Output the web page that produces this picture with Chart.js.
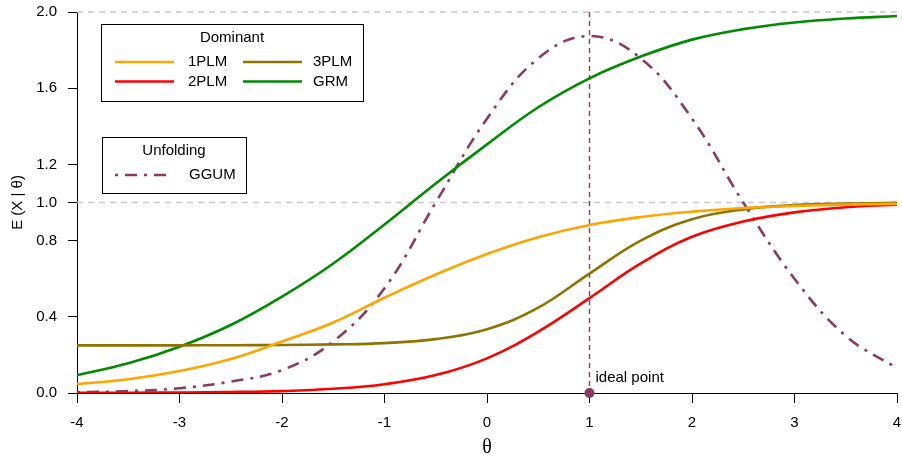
<!DOCTYPE html>
<html>
<head>
<meta charset="utf-8">
<script src="https://cdn.jsdelivr.net/npm/chart.js@4.4.1/dist/chart.umd.min.js"></script>
<style>
  html, body { margin: 0; padding: 0; background: #fff; }
</style>
</head>
<body>
<canvas id="chart" width="902" height="456"></canvas>
<script>
// theta grid the curves were read at
const theta = [-4, -3.5, -3, -2.5, -2, -1.5, -1, -0.5, 0, 0.5, 1, 1.5, 2, 2.5, 3, 3.5, 4]

// expected score curves
const plm1 = [0.047, 0.072, 0.115, 0.178, 0.27, 0.37, 0.5, 0.622, 0.73, 0.818, 0.882, 0.924, 0.952, 0.971, 0.982, 0.989, 0.993]
const plm2 = [0.001, 0.001, 0.003, 0.005, 0.01, 0.022, 0.046, 0.094, 0.182, 0.322, 0.498, 0.68, 0.82, 0.9, 0.948, 0.975, 0.988]
const plm3 = [0.25, 0.25, 0.25, 0.251, 0.252, 0.255, 0.262, 0.283, 0.335, 0.448, 0.627, 0.8, 0.912, 0.964, 0.986, 0.994, 0.998]
const grm  = [0.094, 0.156, 0.243, 0.357, 0.506, 0.68, 0.885, 1.1, 1.305, 1.5, 1.652, 1.766, 1.855, 1.91, 1.945, 1.966, 1.979]
const ggum = [0.004, 0.01, 0.025, 0.06, 0.12, 0.27, 0.55, 1.0, 1.44, 1.757, 1.874, 1.757, 1.44, 1.0, 0.6, 0.3, 0.13]

const idealPoint = 1
const yTicks = [0, 0.4, 0.8, 1.0, 1.2, 1.6, 2.0]
const refLevels = [1.0, 2.0]

const colors = {
  plm1: '#FFA500',
  plm2: '#FF0000',
  plm3: '#8B7500',
  grm: '#008B00',
  ggum: '#8B3A62'
}
const ggumDash = [3, 7, 12, 7]
const FONT = "'Liberation Sans', Arial, sans-serif"

function curve(label, ys, color, dash) {
  return {
    label: label,
    data: ys.map((v, i) => ({x: theta[i], y: v})),
    borderColor: color,
    borderWidth: 2.6,
    borderDash: dash || [],
    borderCapStyle: 'butt',
    pointRadius: 0,
    tension: 0.4,
    fill: false
  }
}

const datasets = [
  curve('1PLM', plm1, colors.plm1),
  curve('2PLM', plm2, colors.plm2),
  curve('3PLM', plm3, colors.plm3),
  curve('GRM', grm, colors.grm),
  curve('GGUM', ggum, colors.ggum, ggumDash),
  {
    label: 'ideal point',
    data: [{x: idealPoint, y: 0}],
    showLine: false,
    pointRadius: 5,
    pointBackgroundColor: colors.ggum,
    pointBorderWidth: 0,
    clip: false
  }
]

// legend boxes (drawn by hand like the R legend() boxes)
const legendBoxes = [
  {
    title: 'Dominant', x: 101.5, y: 24.5, w: 262, h: 77, titleX: 232, titleY: 38,
    items: [
      {label: '1PLM', color: colors.plm1, x0: 115, x1: 174, tx: 188, y: 62},
      {label: '2PLM', color: colors.plm2, x0: 115, x1: 174, tx: 188, y: 81.5},
      {label: '3PLM', color: colors.plm3, x0: 243, x1: 302, tx: 313, y: 62},
      {label: 'GRM', color: colors.grm, x0: 243, x1: 302, tx: 313, y: 81.5}
    ]
  },
  {
    title: 'Unfolding', x: 102.5, y: 137.5, w: 144, h: 56, titleX: 174, titleY: 151,
    items: [
      {label: 'GGUM', color: colors.ggum, x0: 115, x1: 172, tx: 189, y: 175, dash: ggumDash}
    ]
  }
]

const extras = {
  id: 'extras',
  beforeDatasetsDraw(chart) {
    const {ctx, chartArea: a, scales: {x, y}} = chart
    ctx.save()
    ctx.strokeStyle = '#c8c8c8'
    ctx.lineWidth = 1.5
    ctx.setLineDash([6, 5])
    refLevels.forEach(v => {
      const py = y.getPixelForValue(v)
      ctx.beginPath()
      ctx.moveTo(a.left, py)
      ctx.lineTo(a.right, py)
      ctx.stroke()
    })
    ctx.strokeStyle = colors.ggum
    ctx.lineWidth = 1.4
    ctx.setLineDash([5, 4])
    const px = x.getPixelForValue(idealPoint)
    ctx.beginPath()
    ctx.moveTo(px, y.getPixelForValue(yTicks[yTicks.length - 1]))
    ctx.lineTo(px, y.getPixelForValue(0))
    ctx.stroke()
    ctx.restore()
  },
  afterDraw(chart) {
    const {ctx, scales: {x, y}} = chart
    ctx.save()
    ctx.font = '15px ' + FONT
    ctx.fillStyle = '#000'
    ctx.textBaseline = 'middle'
    ctx.textAlign = 'left'
    ctx.fillText('ideal point', x.getPixelForValue(idealPoint) + 6, y.getPixelForValue(0) - 15)

    legendBoxes.forEach(b => {
      ctx.setLineDash([])
      ctx.strokeStyle = '#000'
      ctx.lineWidth = 1
      ctx.strokeRect(b.x, b.y, b.w, b.h)
      ctx.textAlign = 'center'
      ctx.fillText(b.title, b.titleX, b.titleY)
      ctx.textAlign = 'left'
      b.items.forEach(it => {
        ctx.strokeStyle = it.color
        ctx.lineWidth = 2.6
        ctx.setLineDash(it.dash || [])
        ctx.beginPath()
        ctx.moveTo(it.x0, it.y)
        ctx.lineTo(it.x1, it.y)
        ctx.stroke()
        ctx.fillText(it.label, it.tx, it.y)
      })
    })
    ctx.restore()
  }
}

new Chart(document.getElementById('chart'), {
  type: 'line',
  data: {datasets: datasets},
  plugins: [extras],
  options: {
    responsive: false,
    animation: false,
    layout: {padding: {top: 12, right: 5, bottom: 0, left: 0}},
    plugins: {legend: {display: false}, tooltip: {enabled: false}},
    scales: {
      x: {
        type: 'linear',
        min: -4,
        max: 4,
        afterFit: s => { s.height = 63; s.paddingLeft = 0; s.paddingRight = 0 },
        ticks: {stepSize: 1, maxRotation: 0, autoSkip: false, color: '#000', padding: 11,
          font: {family: FONT, size: 15}},
        grid: {drawOnChartArea: false, drawTicks: true, tickLength: 10, color: '#000'},
        border: {display: true, color: '#000', width: 1},
        title: {display: true, text: 'θ', color: '#000', padding: {top: 0, bottom: 0},
          font: {family: "'Liberation Serif', 'Times New Roman', serif", size: 20, lineHeight: 0.8}}
      },
      y: {
        min: 0,
        max: 2,
        afterFit: s => { s.width = 77; s.paddingTop = 0; s.paddingBottom = 0 },
        afterBuildTicks: s => { s.ticks = yTicks.map(v => ({value: v})) },
        ticks: {autoSkip: false, color: '#000', padding: 11, callback: v => Number(v).toFixed(1),
          font: {family: FONT, size: 15}},
        grid: {drawOnChartArea: false, drawTicks: true, tickLength: 9, color: '#000'},
        border: {display: true, color: '#000', width: 1},
        title: {display: true, text: 'E (X | θ)', color: '#000', padding: {top: 9, bottom: 0},
          font: {family: FONT, size: 15, lineHeight: 1.2}}
      }
    }
  }
})
</script>
</body>
</html>
